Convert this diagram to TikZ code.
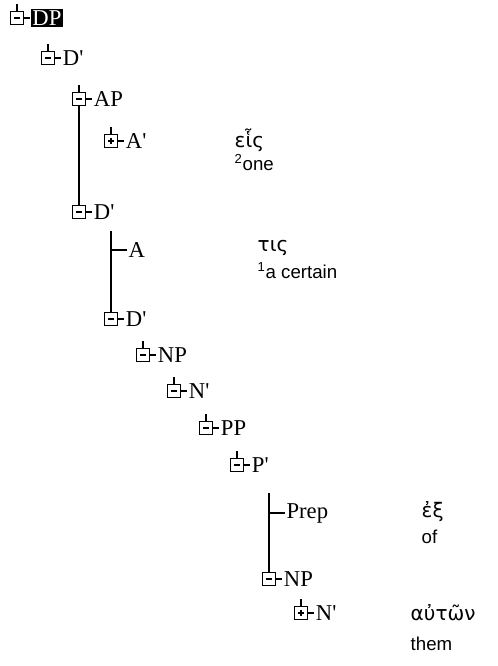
\documentclass[tikz,border=0pt]{standalone}
\usepackage{fontspec}
\setmainfont{Liberation Serif}
\newfontfamily\glossfont{Liberation Sans}
\newfontfamily\greekfont{DejaVu Sans}
\usetikzlibrary{positioning}

\tikzset{
  tbox/.style={draw, minimum size=10pt, inner sep=0pt, fill=white},
  minbox/.style={tbox, path picture={\draw ([xshift=-2.4pt]path picture bounding box.center) -- ([xshift=2.4pt]path picture bounding box.center);}},
  plusbox/.style={tbox, path picture={\draw ([xshift=-2.4pt]path picture bounding box.center) -- ([xshift=2.4pt]path picture bounding box.center);
      \draw ([yshift=-2.4pt]path picture bounding box.center) -- ([yshift=2.4pt]path picture bounding box.center);}},
  lbl/.style={font=\fontsize{17}{20}\selectfont, inner sep=0.6pt},
  greek/.style={font=\greekfont\fontsize{15}{18}\selectfont, inner sep=0pt, anchor=west},
  gloss/.style={font=\glossfont\fontsize{14}{16}\selectfont, inner sep=0pt, anchor=west}
}

\begin{document}
\begin{tikzpicture}[x=0.75pt,y=0.75pt,line width=1.1pt]
\useasboundingbox (0,0) rectangle (497,-666);

% root
\node[minbox] (b1) at (17,-18) {};
\draw (b1.north) -- ++(0,7);
\node[lbl, fill=black, text=white, inner xsep=1pt, inner ysep=1.5pt, right=4.5pt of b1] (t1) {DP};
\draw (b1.east) -- (t1.west);

% boxed nodes
\foreach \n/\x/\y/\k/\t in {2/48/-58/minbox/D\textquotesingle, 3/79/-99/minbox/AP, 4/111/-141/plusbox/A\textquotesingle,
    5/79/-212/minbox/D\textquotesingle, 7/111/-319/minbox/D\textquotesingle, 8/143/-355/minbox/NP, 9/174/-391/minbox/N\textquotesingle,
    10/206/-428/minbox/PP, 11/237/-465/minbox/P\textquotesingle, 13/269/-579/minbox/NP, 14/301/-613/plusbox/N\textquotesingle}
{
  \node[\k] (b\n) at (\x,\y) {};
  \draw (b\n.north) -- ++(0,7);
  \node[lbl, right=4.5pt of b\n] (t\n) {\t};
  \draw (b\n.east) -- (t\n.west);
}

% leaves
\coordinate (a6) at (111,-250);
\coordinate (s6) at (111,-231);
\node[lbl, right=12pt of a6] (t6) {A};
\draw (a6) -- (t6.west);
\coordinate (a12) at (269,-513);
\coordinate (s12) at (269,-493);
\node[lbl, right=12pt of a12] (t12) {Prep};
\draw (a12) -- (t12.west);

% sibling lines
\draw (b3.south) -- (b5.north);
\draw (s6) -- (b7.north);
\draw (s12) -- (b13.north);

% glosses
\node[greek] (g4) at (234,-140) {εἷς};
\node[gloss] (e4) at (234,-163) {\textsuperscript{2}one};
\node[greek] (g6) at (257,-248) {τις};
\node[gloss] (e6) at (257,-271) {\textsuperscript{1}a certain};
\node[greek] (g12) at (421,-512) {ἐξ};
\node[gloss] (e12) at (421,-537) {of};
\node[greek] (g14) at (410,-613) {αὐτῶν};
\node[gloss] (e14) at (410,-644) {them};
\end{tikzpicture}
\end{document}
